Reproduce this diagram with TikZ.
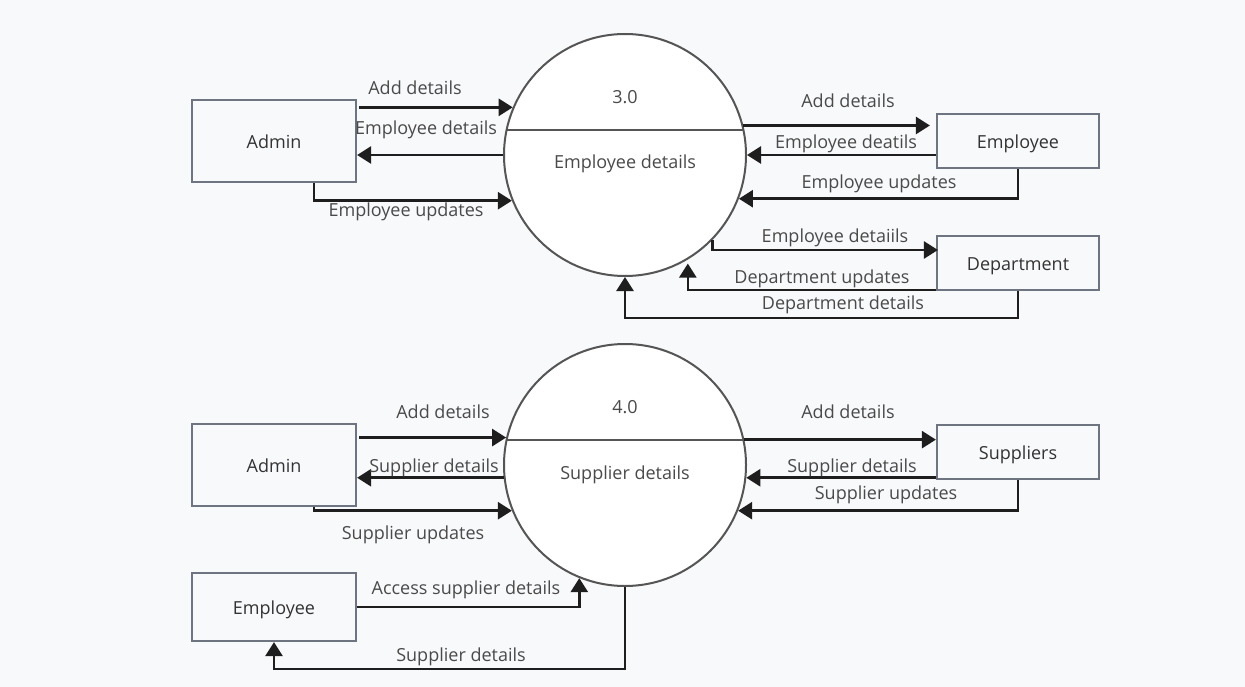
\documentclass[tikz,border=0pt]{standalone}
\usepackage{fontspec}
\setmainfont{Open Sans}
\usetikzlibrary{arrows.meta,calc}
\definecolor{bgc}{HTML}{F8F9FB}
\definecolor{boxline}{HTML}{6E7580}
\definecolor{circline}{HTML}{555555}
\definecolor{flowc}{HTML}{1E1E1E}
\definecolor{lblc}{HTML}{4A4A4A}
\definecolor{entc}{HTML}{333333}
\tikzset{
  txt/.style={font=\fontsize{18}{21}\selectfont, inner sep=0pt, text height=15.5pt, text depth=1pt},
  lbl/.style={txt, text=lblc},
  ent/.style={txt, draw=boxline, line width=2.2pt, fill=bgc, text=entc, minimum width=164pt},
  proc/.style={circle, draw=circline, line width=2pt, fill=white, minimum size=242pt, inner sep=0pt},
  divider/.style={draw=circline, line width=2pt},
  flow/.style={draw=flowc, line width=2.6pt, -{Triangle[length=14pt,width=17pt]}},
}
\begin{document}
\begin{tikzpicture}[x=1pt,y=-1pt]
\fill[bgc] (0,0) rectangle (1245,687);
\useasboundingbox (0,0) rectangle (1245,687);

% ---------- upper process 3.0 ----------
\node[proc] (c1) at (625,155) {};
\draw[divider] ($(c1.center)+(-118.4,-25)$) -- ($(c1.center)+(118.4,-25)$);
\node[lbl] (c1num) at (625,96) {3.0};
\node[lbl] (c1txt) at (625,161) {Employee details};

\node[ent, minimum height=82pt] (admin1) at (274,141) {Admin};
\node[ent, minimum width=162pt, minimum height=54pt] (emp1) at (1018,141) {Employee};
\node[ent, minimum width=162pt, minimum height=54pt] (dept) at (1018,263) {Department};

\draw[flow] ($(admin1.east |- c1.157.7)+(2,0)$) -- (c1.157.7);
\draw[flow] (c1.west) -- (admin1.east |- c1.west);
\draw[flow] ([xshift=40pt]admin1.south) |- (c1.202.3);

\draw[flow] (c1.14.8) -- ($(emp1.west |- c1.14.8)+(-6,0)$);
\draw[flow] (emp1.west |- c1.east) -- (c1.east);
\draw[flow] (emp1.south) |- (c1.-21.8);
\draw[flow] (c1.-44.4) |- ($(dept.west)+(2,-13)$);
\draw[flow, shorten >=4pt] ($(dept.south west)+(0,-1)$) -| (c1.-59.7);
\draw[flow] (dept.south) -- ++(0,27) -| (c1.south);

\node[lbl] (l1) at (415,87) {Add details};
\node[lbl] (l2) at (426,127) {Employee details};
\node[lbl] (l3) at (406,209) {Employee updates};
\node[lbl] (l4) at (848,100) {Add details};
\node[lbl] (l5) at (846,141) {Employee deatils};
\node[lbl] (l6) at (879,181) {Employee updates};
\node[lbl] (l7) at (835,235) {Employee detaiils};
\node[lbl] (l8) at (822,276) {Department updates};
\node[lbl] (l9) at (843,302) {Department details};

% ---------- lower process 4.0 ----------
\node[proc] (c2) at (625,465) {};
\draw[divider] ($(c2.center)+(-118.4,-25)$) -- ($(c2.center)+(118.4,-25)$);
\node[lbl] (c2num) at (625,406) {4.0};
\node[lbl] (c2txt) at (625,472) {Supplier details};

\node[ent, minimum height=82pt] (admin2) at (274,465) {Admin};
\node[ent, minimum width=162pt, minimum height=54pt] (supp) at (1018,452) {Suppliers};
\node[ent, minimum height=68pt] (emp2) at (274,607) {Employee};

\draw[flow] ($(admin2.east |- c2.167.1)+(2,0)$) -- (c2.167.1);
\draw[flow] (c2.186.6) -- (admin2.east |- c2.186.6);
\draw[flow] ([xshift=40pt]admin2.south) |- (c2.202.8);

\draw[flow] (c2.12.4) -- (supp.west |- c2.12.4);
\draw[flow] (c2.-6.6 -| supp.west) -- (c2.-6.6);
\draw[flow] (supp.south) |- (c2.-22.3);

\draw[flow] (emp2.east) -| (c2.248.2);
\draw[flow] (c2.south) -- ++(0,82) -| (emp2.south);

\node[lbl] (m1) at (443,411) {Add details};
\node[lbl] (m2) at (434,465) {Supplier details};
\node[lbl] (m3) at (413,532) {Supplier updates};
\node[lbl] (m4) at (848,411) {Add details};
\node[lbl] (m5) at (852,465) {Supplier details};
\node[lbl] (m6) at (886,492) {Supplier updates};
\node[lbl] (m7) at (466,587) {Access supplier details};
\node[lbl] (m8) at (461,654) {Supplier details};
\end{tikzpicture}
\end{document}
